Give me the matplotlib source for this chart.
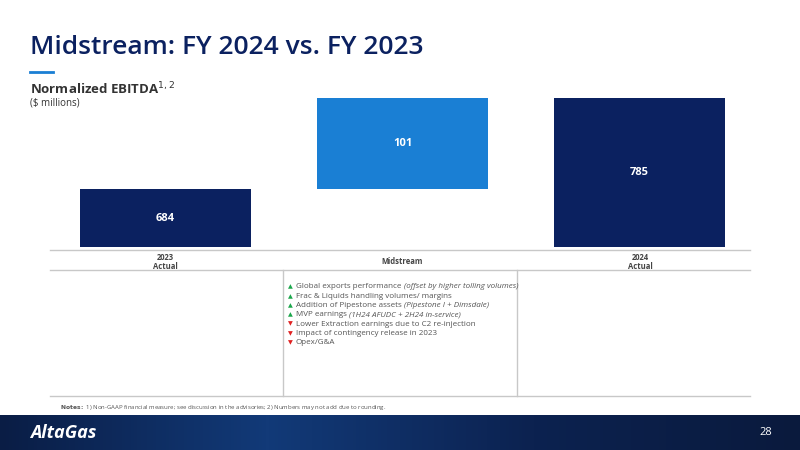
import matplotlib.pyplot as plt
import numpy as np
from matplotlib.colors import LinearSegmentedColormap

categories = ["2023\nActual", "Midstream", "2024\nActual"]
values = [684, 101, 785]
kinds = ["total", "delta", "total"]
base = 620

bullets = [
    ("up", "Global exports performance ", "(offset by higher tolling volumes)"),
    ("up", "Frac & Liquids handling volumes/ margins", ""),
    ("up", "Addition of Pipestone assets ", "(Pipestone I + Dimsdale)"),
    ("up", "MVP earnings ", "(1H24 AFUDC + 2H24 in-service)"),
    ("down", "Lower Extraction earnings due to C2 re-injection", ""),
    ("down", "Impact of contingency release in 2023", ""),
    ("down", "Opex/G&A", ""),
]

NAVY = "#0b2160"
BLUE = "#1a7fd4"
W, H = 800, 450

fig = plt.figure(figsize=(8, 4.5), dpi=100)
plt.rcParams['font.family'] = ['Open Sans', 'DejaVu Sans']

def fx(px): return px / W
def fy(py): return 1 - py / H

# title
fig.text(fx(30), fy(47), "Midstream: FY 2024 vs. FY 2023", fontsize=19, color=NAVY,
         va="center", weight="semibold")
fig.add_artist(plt.Line2D([fx(30), fx(53)], [fy(72), fy(72)], color=BLUE, lw=2))
fig.text(fx(30), fy(89), "Normalized EBITDA$^{1,2}$", fontsize=9.5, color="#333333", weight="bold", va="center")
fig.text(fx(30), fy(103), "($ millions)", fontsize=7, color="#333333", va="center")

# bars
ax = fig.add_axes([fx(47), fy(247), fx(758) - fx(47), (247 - 95) / H])
running = 0
for i, (v, k) in enumerate(zip(values, kinds)):
    if k == "total":
        bottom, height, col = base, v - base, NAVY
        running = v
    else:
        bottom, height, col = running, v, BLUE
        running += v
    ax.bar(i, height, bottom=bottom, width=0.72, color=col)
    ax.text(i, bottom + height / 2, str(v), ha="center", va="center",
            color="white", fontsize=8, weight="bold")
ax.set_xlim(-0.5, 2.5)
ax.set_ylim(base, base + 152 / 0.9)
ax.axis("off")

# table lines
grey = "#c8c8c8"
for y in (250, 270, 396):
    fig.add_artist(plt.Line2D([fx(50), fx(750)], [fy(y), fy(y)], color=grey, lw=1))
for x in (283, 517):
    fig.add_artist(plt.Line2D([fx(x), fx(x)], [fy(270), fy(396)], color=grey, lw=1))
for xc, lab in zip((165, 402, 640), categories):
    fig.text(fx(xc), fy(262), lab, ha="center", va="center", fontsize=5.5,
             weight="bold", color="#444444", linespacing=1.1)

for j, (d, txt, it) in enumerate(bullets):
    y = fy(287 + j * 9.3)
    fig.text(fx(288), y, "▲" if d == "up" else "▼", fontsize=4.5,
             color="#1aa64a" if d == "up" else "#e02020", va="center")
    t = fig.text(fx(296), y, txt, fontsize=5.8, color="#555555", va="center")
    if it:
        fig.canvas.draw()
        bb = t.get_window_extent()
        fig.text(bb.x1 / W, y, it, fontsize=5.8, color="#555555", style="italic", va="center")

fig.text(fx(60), fy(407), r"$\bf{Notes:}$ 1) Non-GAAP financial measure; see discussion in the advisories; 2) Numbers may not add due to rounding.",
         fontsize=4.3, color="#555555", va="center")

# footer band
fax = fig.add_axes([0, 0, 1, (450 - 415) / H])
grad = np.linspace(0, 1, 256)[None, :]
cmap = LinearSegmentedColormap.from_list("f", ["#0a1d45", "#123a78", "#0c2250", "#0a1a3d"])
fax.imshow(grad, aspect="auto", cmap=cmap, extent=[0, 1, 0, 1])
fax.axis("off")
fax.text(0.037, 0.5, "AltaGas", color="white", fontsize=13, weight="bold", style="italic",
         va="center", transform=fax.transAxes)
fax.text(0.965, 0.5, "28", color="white", fontsize=8, va="center", ha="right", transform=fax.transAxes)

fig.savefig("out.png", dpi=100)
